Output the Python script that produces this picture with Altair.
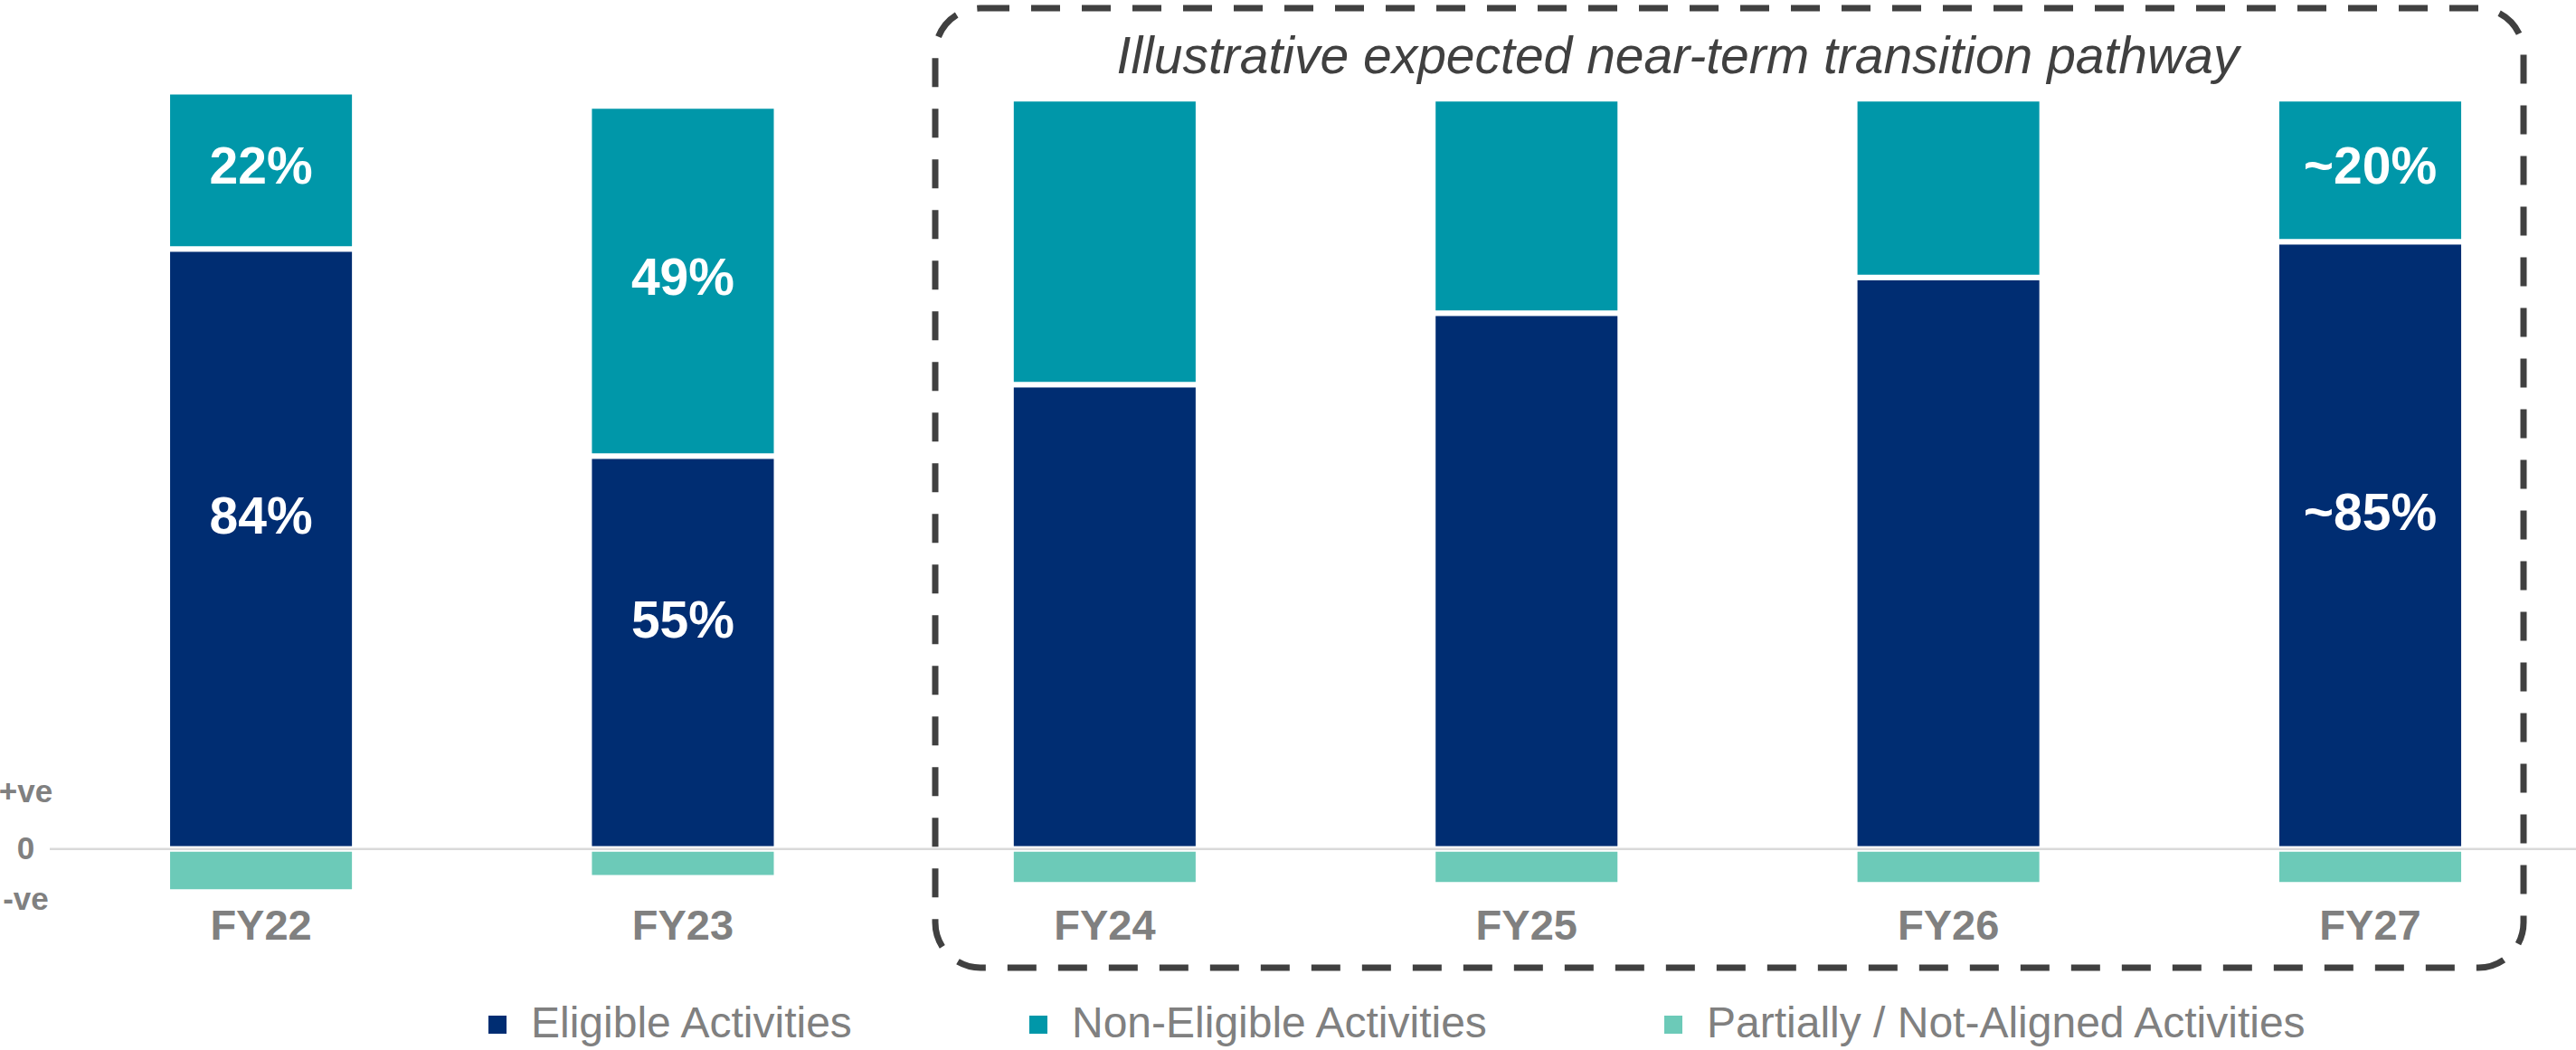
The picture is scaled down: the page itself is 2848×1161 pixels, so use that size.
import altair as alt
import pandas as pd

# ---- chart data -------------------------------------------------------------
years = ["FY22", "FY23", "FY24", "FY25", "FY26", "FY27"]
eligible = [84, 55, 65, 75, 80, 85]
non_eligible = [22, 49, 40, 30, 25, 20]
not_aligned = [-6, -4, -5, -5, -5, -5]
eligible_labels = ["84%", "55%", "", "", "", "~85%"]
non_eligible_labels = ["22%", "49%", "", "", "", "~20%"]

series = [
    "Eligible Activities",
    "Non-Eligible Activities",
    "Partially / Not-Aligned Activities",
]
pathway_note = "Illustrative expected near-term transition pathway"
y_ticks = {8: "+ve", 0: "0", -7: "-ve"}

# ---- styling ----------------------------------------------------------------
FONT = "Liberation Sans"
GRAY = "#808080"
DARK = "#404040"
COLORS = ["#002D72", "#0097A9", "#6CCAB8"]

# ---- tables -----------------------------------------------------------------
rows = []
for i, yr in enumerate(years):
    for k, vals in enumerate([eligible, non_eligible, not_aligned]):
        rows.append({"year": yr, "series": series[k], "value": vals[i], "order": k})
bars_df = pd.DataFrame(rows)

# label anchors sit at the middle of each stacked segment
elig_lab_df = pd.DataFrame(
    {"year": years, "value": [e / 2 for e in eligible], "label": eligible_labels}
)
non_lab_df = pd.DataFrame(
    {
        "year": years,
        "value": [e + n / 2 for e, n in zip(eligible, non_eligible)],
        "label": non_eligible_labels,
    }
)
elig_lab_df = elig_lab_df[elig_lab_df["label"] != ""]
non_lab_df = non_lab_df[non_lab_df["label"] != ""]

label_expr = " : ".join(
    [f"datum.value == {v} ? '{t}'" for v, t in y_ticks.items()] + ["''"]
)

x_enc = alt.X(
    "year:N",
    sort=years,
    scale=alt.Scale(paddingInner=0.556, paddingOuter=0.2723, align=0.512),
    axis=alt.Axis(
        title=None,
        domain=False,
        ticks=False,
        tickSize=0,
        labelAngle=0,
        labelFont=FONT,
        labelFontSize=47,
        labelFontWeight="bold",
        labelColor=GRAY,
        labelPadding=36,
        labelBaseline="alphabetic",
    ),
)

y_axis = alt.Axis(
    title=None,
    values=list(y_ticks.keys()),
    labelExpr=label_expr,
    grid=False,
    domain=False,
    ticks=False,
    tickSize=0,
    labelPadding=27,
    labelAlign="center",
    labelBaseline="middle",
    labelFont=FONT,
    labelFontSize=35,
    labelFontWeight="bold",
    labelColor=GRAY,
)
y_scale = alt.Scale(domain=[-8, 112], nice=False)

bars = (
    alt.Chart(bars_df)
    .mark_bar(stroke="white", strokeWidth=6)
    .encode(
        x=x_enc,
        y=alt.Y("value:Q", stack="zero", scale=y_scale, axis=y_axis),
        color=alt.Color(
            "series:N",
            scale=alt.Scale(domain=series, range=COLORS),
            legend=alt.Legend(
                title=None,
                orient="none",
                legendX=471,
                legendY=1055,
                direction="horizontal",
                columns=3,
                symbolType="square",
                symbolSize=400,
                symbolStrokeWidth=0,
                labelFont=FONT,
                labelFontSize=48,
                labelColor=GRAY,
                labelOffset=13,
                labelLimit=2000,
                columnPadding=179,
                padding=0,
            ),
        ),
        order=alt.Order("order:Q"),
    )
)

zero_line = (
    alt.Chart(pd.DataFrame({"value": [0]}))
    .mark_rule(color="#D9D9D9", strokeWidth=2.5)
    .encode(y=alt.Y("value:Q", scale=y_scale, axis=y_axis))
)


def value_labels(df, dy):
    return (
        alt.Chart(df)
        .mark_text(
            font=FONT,
            fontSize=57,
            fontWeight="bold",
            color="white",
            baseline="middle",
            dy=dy,
        )
        .encode(
            x=x_enc,
            y=alt.Y("value:Q", scale=y_scale, axis=y_axis),
            text="label:N",
        )
    )


elig_text = value_labels(elig_lab_df, -34)
non_text = value_labels(non_lab_df, -2)

note = (
    alt.Chart(pd.DataFrame({"note": [pathway_note]}))
    .mark_text(
        font=FONT,
        fontSize=57,
        fontStyle="italic",
        color=DARK,
        align="center",
        baseline="alphabetic",
    )
    .encode(x=alt.value(1800), y=alt.value(27), text="note:N")
)

# dashed rounded frame around the forecast years
frame = (
    alt.Chart(pd.DataFrame({"k": [0]}))
    .mark_rect(
        fill="white",
        fillOpacity=0,
        stroke=DARK,
        strokeWidth=7,
        strokeDash=[32, 24],
        cornerRadius=50,
    )
    .encode(
        x=alt.value(979),
        x2=alt.value(2735),
        y=alt.value(-45),
        y2=alt.value(1016),
    )
)

chart = (
    alt.layer(frame, bars, zero_line, elig_text, non_text, note)
    .properties(
        width=2793,
        height=948,
        padding={"left": 55, "top": 54, "right": 0, "bottom": 159},
        autosize=alt.AutoSizeParams(type="none"),
        background="white",
    )
    .configure_view(stroke=None)
)

chart.save("out.html", embed_options={"renderer": "svg", "actions": False})
